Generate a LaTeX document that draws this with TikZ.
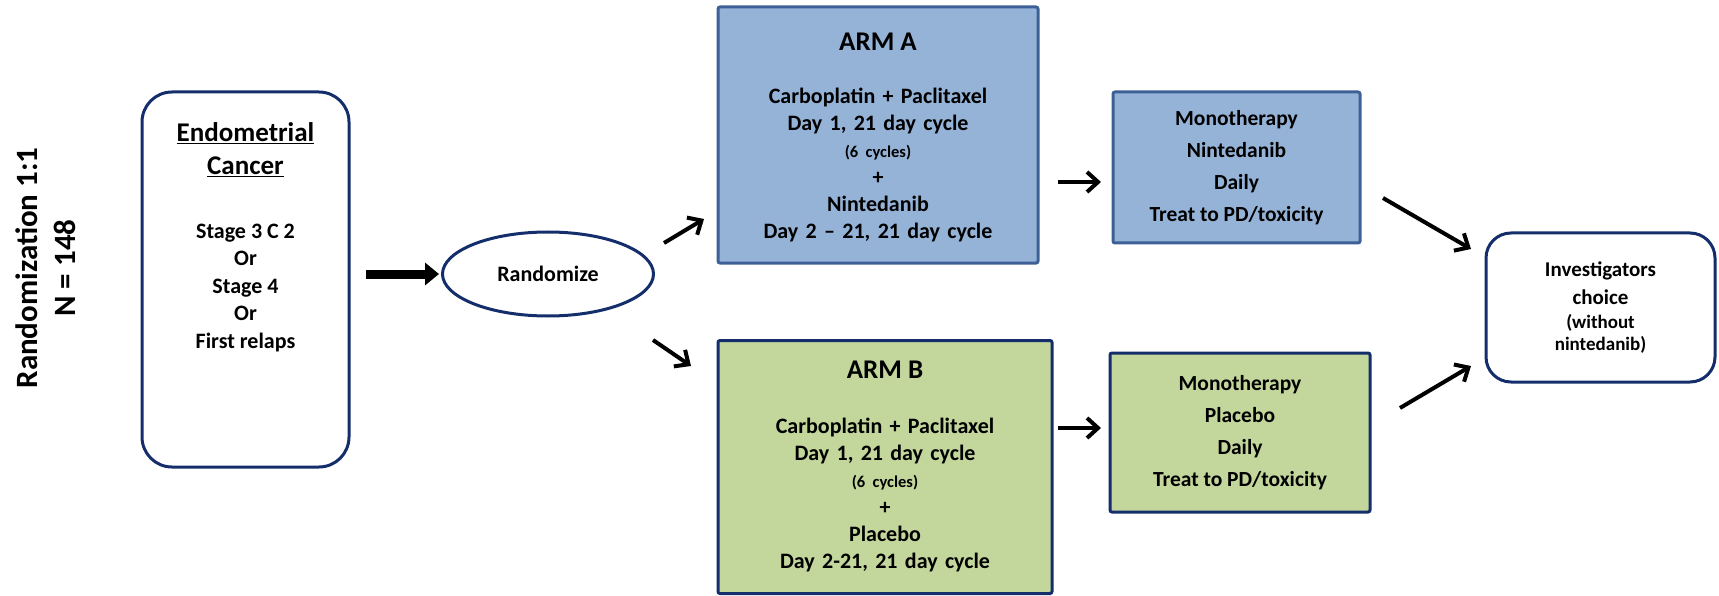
\documentclass[tikz,border=0pt]{standalone}
\usepackage{fontspec}
\setmainfont{Carlito}
\usetikzlibrary{arrows.meta, shapes.geometric}

\definecolor{armblue}{HTML}{95B3D7}
\definecolor{armgreen}{HTML}{C3D69B}
\definecolor{edgeblue}{HTML}{3D6196}
\definecolor{navy}{HTML}{142E6B}

\tikzset{
  fs/.style 2 args={font=\bfseries\fontsize{#1}{#2}\selectfont},
  roundbox/.style={draw=navy, line width=3pt, rounded corners=#1},
  armbox/.style={draw=#1, line width=3pt, rounded corners=2pt},
  arr/.style={line width=4pt, -{Straight Barb[length=11pt,width=20pt]}},
  bigarr/.style={line width=9pt, -{Triangle[length=14pt,width=22pt]}}
}

\begin{document}
\begin{tikzpicture}[x=1pt,y=-1pt]
\useasboundingbox (0,0) rectangle (1719,596);
% Side label
\node[fs={31}{38}, rotate=90, align=center] (label) at (46,268) {Randomization 1:1\\N = 148};
% Population
\node[roundbox=30pt, minimum width=207pt, minimum height=375pt] (endo) at (245.5,279.5) {};
\node[fs={27}{33}, align=center] (endohead) at (245.5,150) {\underline{Endometrial}\\\underline{Cancer}};
\node[fs={22}{27.5}, align=center] (endotext) at (245.5,288) {Stage 3 C 2\\Or\\Stage 4\\Or\\First relaps};
% Randomisation
\node[ellipse, draw=navy, line width=3pt, minimum width=211pt, minimum height=84pt, fs={22}{27}] (rand) at (548,274) {Randomize};
% Arms
\node[armbox=edgeblue, fill=armblue, minimum width=320pt, minimum height=256pt] (armA) at (878,135) {};
\node[fs={27}{33}] (armAhead) at (878,42) {ARM A};
\node[fs={22}{27}, text width=310pt, align=center] (armAtext) at (878,164.5)
  {Carboplatin + Paclitaxel\\Day 1, 21 day cycle\\{\fontsize{16.5}{27}\selectfont (6 cycles)}\\+\\Nintedanib\\Day 2 -- 21, 21 day cycle};
\node[armbox=navy, fill=armgreen, minimum width=334pt, minimum height=253pt] (armB) at (885,467) {};
\node[fs={27}{33}] (armBhead) at (885,370) {ARM B};
\node[fs={22}{27}, text width=320pt, align=center] (armBtext) at (885,494.5)
  {Carboplatin + Paclitaxel\\Day 1, 21 day cycle\\{\fontsize{16.5}{27}\selectfont (6 cycles)}\\+\\Placebo\\Day 2-21, 21 day cycle};
% Maintenance
\node[armbox=edgeblue, fill=armblue, minimum width=247pt, minimum height=151pt, fs={21.5}{32}, align=center] (monoA) at (1236.5,167.5)
  {Monotherapy\\Nintedanib\\Daily\\Treat to PD/toxicity};
\node[armbox=navy, fill=armgreen, minimum width=260pt, minimum height=159pt, fs={21.5}{32}, align=center] (monoB) at (1240,432.5)
  {Monotherapy\\Placebo\\Daily\\Treat to PD/toxicity};
% Follow-up
\node[roundbox=25pt, minimum width=229pt, minimum height=149pt] (inv) at (1600.5,307.5) {};
\node[fs={21}{28}, align=center] (invhead) at (1600.5,283) {Investigators\\choice};
\node[fs={19}{22}, align=center] (invtext) at (1600.5,334) {(without\\nintedanib)};
% Coordinates
\coordinate (upS) at (664,243);   \coordinate (upE) at (704,219);
\coordinate (dnS) at (653,340);   \coordinate (dnE) at (691,366);
\coordinate (aS) at (1058,182);   \coordinate (aE) at (1101,182);
\coordinate (bS) at (1058,428);   \coordinate (bE) at (1101,428);
\coordinate (iaS) at (1383,198);  \coordinate (iaE) at (1471,249);
\coordinate (ibS) at (1400,408);  \coordinate (ibE) at (1471,366);
% Arrows
\draw[bigarr, shorten <=15pt, shorten >=2pt] (endo.east |- rand.west) -- (rand.west);
\draw[arr] (upS) -- (upE);
\draw[arr] (dnS) -- (dnE);
\draw[arr] (aS) -- (aE);
\draw[arr] (bS) -- (bE);
\draw[arr] (iaS) -- (iaE);
\draw[arr] (ibS) -- (ibE);
\end{tikzpicture}
\end{document}
